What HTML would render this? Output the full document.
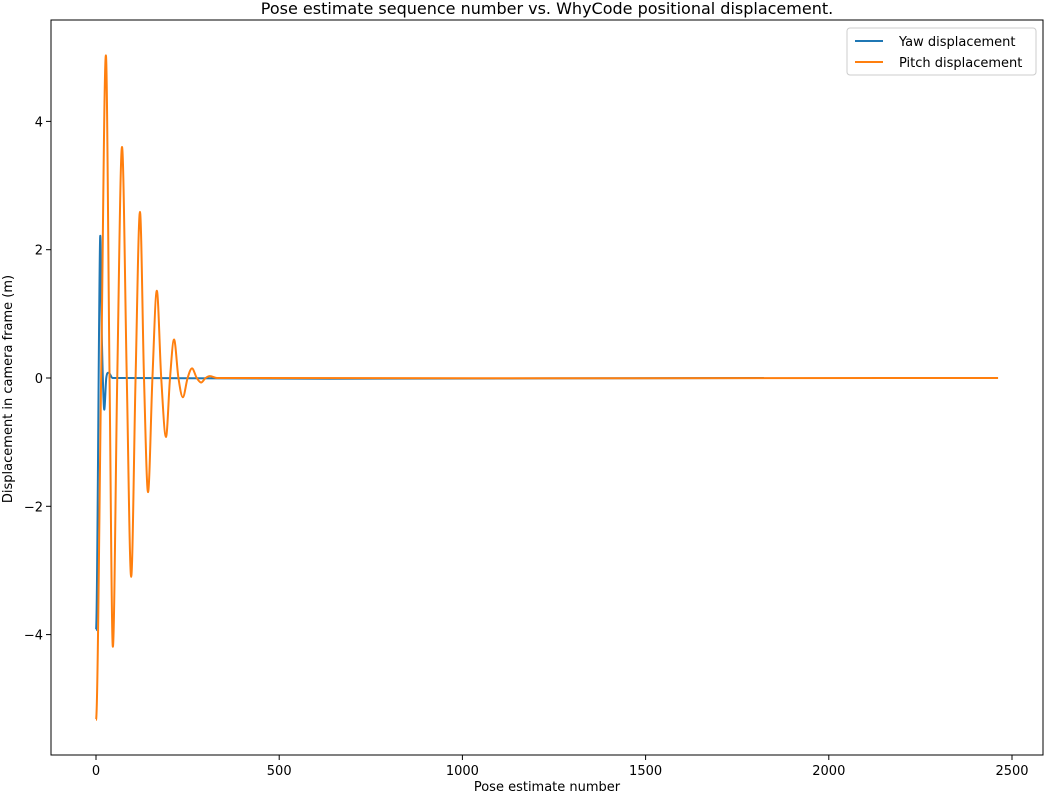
<!DOCTYPE html>
<html><head><meta charset="utf-8"><style>
html,body{margin:0;padding:0;background:#fff;}
svg{display:block;font-family:"DejaVu Sans","Liberation Sans",sans-serif;}
</style></head><body>
<svg id="chart" width="1045" height="796">
<text x="547" y="14" text-anchor="middle" font-size="16">Pose estimate sequence number vs. WhyCode positional displacement.</text>
<g id="plot"></g>
<text x="547" y="796" dy="-5" text-anchor="middle" font-size="13">Pose estimate number</text>
<text transform="translate(12,389) rotate(-90)" text-anchor="middle" font-size="13">Displacement in camera frame (m)</text>
<g>
<rect x="847" y="28" width="189" height="47" fill="#fff" stroke="#ccc" rx="3"/>
<line x1="855" y1="41" x2="883" y2="41" stroke="#1f77b4" stroke-width="2"/>
<text x="899" y="46" font-size="13">Yaw displacement</text>
<line x1="855" y1="62" x2="883" y2="62" stroke="#ff7f0e" stroke-width="2"/>
<text x="899" y="67" font-size="13">Pitch displacement</text>
</g>
</svg>
<script>
const xTicks=[0,500,1000,1500,2000,2500];
const yTicks=[-4,-2,0,2,4];
const yawN=[0,11,16,22,28,35,45,1823];
const yawV=[-3.93,2.13,0.6,-0.48,0,0.08,0,0];
const pitchN=[0,14,27,37,46,58,71,84,96,108,120,131,142,154,166,178,191,202,213,225,237,250,262,275,287,299,311,330,2462];
const pitchV=[-5.33,0,5.03,0,-4.19,0,3.6,0,-3.1,0,2.59,0,-1.78,0,1.36,0,-0.92,0,0.6,0,-0.3,0,0.15,0,-0.07,0,0.03,0,0];
const L=51,R=1043,T=20,B=755;
const sx=n=>96+(n-0)*(1012-96)/2500;
const sy=v=>378-v*64.15;
const ns='http://www.w3.org/2000/svg';
const g=document.getElementById('plot');
function mk(t,a){const e=document.createElementNS(ns,t);for(const k in a)e.setAttribute(k,a[k]);g.appendChild(e);return e;}
xTicks.forEach(t=>{
 const l=mk('line',{x1:sx(t),x2:sx(t),y1:B,y2:B+5,stroke:'#000'});
 
 
 const tx=mk('text',{x:sx(t),y:B+20,'text-anchor':'middle','font-size':13});
 tx.textContent=t;
 
 
});
yTicks.forEach(t=>{
 const l=mk('line',{x1:L-5,x2:L,y1:sy(t),y2:sy(t),stroke:'#000'});
 
 
 const tx=mk('text',{x:L-8,y:sy(t)+5,'text-anchor':'end','font-size':13});
 tx.textContent=(t<0?'\u2212'+(-t):t);
 
 
});
function path(N,V){
 const p=N.map((n,i)=>[sx(n),sy(V[i])]);
 const m=p.map((q,i)=>{
  if(i===0||i===p.length-1)return 0;
  const a=p[i-1],b=p[i+1];
  if(Math.abs(q[1]-a[1])<0.5&&Math.abs(q[1]-b[1])<0.5)return 0;
  return (b[1]-a[1])/(b[0]-a[0]);
 });
 let d='M'+p[0][0]+','+p[0][1];
 for(let i=0;i<p.length-1;i++){
  const p1=p[i],p2=p[i+1],dx=(p2[0]-p1[0])/3;
  const c1=[p1[0]+dx,p1[1]+m[i]*dx];
  const c2=[p2[0]-dx,p2[1]-m[i+1]*dx];
  d+=' C'+c1+' '+c2+' '+p2;
 }
 return d;
}
const yaw=mk('path',{d:path(yawN,yawV),fill:'none',stroke:'#1f77b4','stroke-width':2});


const pitch=mk('path',{d:path(pitchN,pitchV),fill:'none',stroke:'#ff7f0e','stroke-width':2});


const fr=mk('rect',{x:L,y:T,width:R-L,height:B-T,fill:'none',stroke:'#000'});


</script>
</body></html>
